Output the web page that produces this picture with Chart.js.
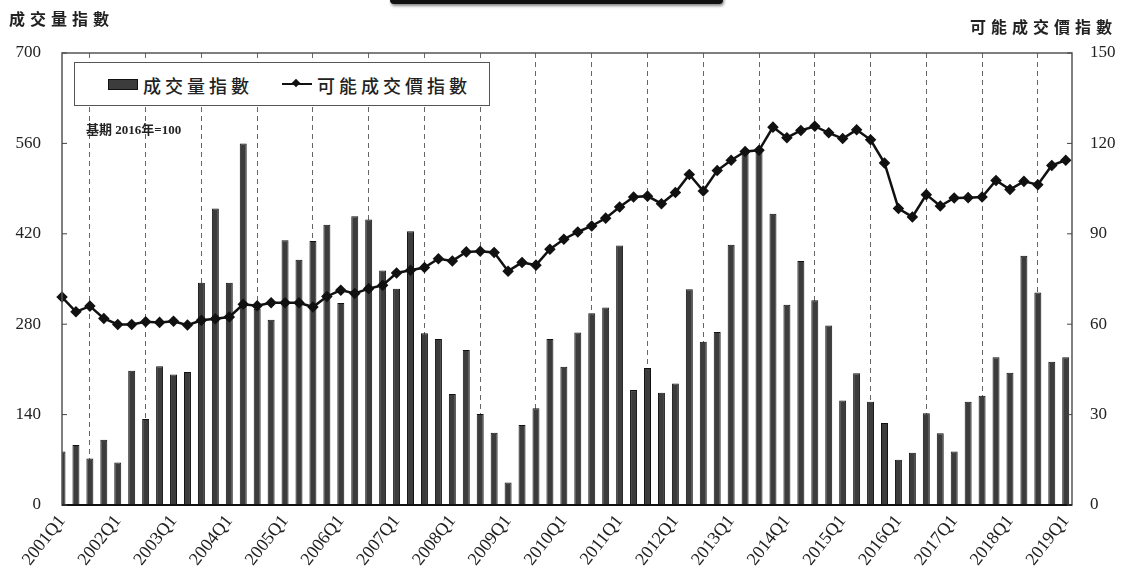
<!DOCTYPE html>
<html>
<head>
<meta charset="utf-8">
<script src="https://cdn.jsdelivr.net/npm/chart.js@4/dist/chart.umd.min.js"></script>
<style>
  html, body { margin: 0; padding: 0; background: #fff; }
  #wrap { position: relative; width: 1125px; height: 579px; overflow: hidden; }
  canvas { position: absolute; left: 0; top: 0; }
  .cjk { font-family: "Noto Sans CJK TC", "Noto Sans CJK SC", sans-serif; font-weight: 700; color: #222; position: absolute; white-space: nowrap; }
  #titleBar { position: absolute; left: 390px; top: -10px; width: 333px; height: 14px; background: #111; border-radius: 4px; box-shadow: 1px 2px 3px #888; }
  #legend { position: absolute; left: 74px; top: 62px; width: 414px; height: 42px; border: 1.5px solid #555; background: #fff; }
</style>
</head>
<body>
<div id="wrap">
  <canvas id="chart" width="1125" height="579"></canvas>
  <div id="titleBar"></div>
  <div class="cjk" style="left:9px; top:6px; font-size:16px; letter-spacing:5px;">成交量指數</div>
  <div class="cjk" style="left:970px; top:14px; font-size:16px; letter-spacing:5px;">可能成交價指數</div>
  <div id="legend">
    <div style="position:absolute; left:33px; top:16px; width:28px; height:9px; background:#3c3c3c; border:1.5px solid #111;"></div>
    <div class="cjk" style="left:68px; top:9px; font-size:18px; letter-spacing:4px; font-weight:500;">成交量指數</div>
    <div style="position:absolute; left:207px; top:20px; width:30px; height:2px; background:#111;"></div>
    <div style="position:absolute; left:218px; top:17px; width:6px; height:6px; background:#111; transform:rotate(45deg);"></div>
    <div class="cjk" style="left:242px; top:9px; font-size:18px; letter-spacing:4px; font-weight:500;">可能成交價指數</div>
  </div>
  <div class="cjk" style="left:86px; top:119px; font-size:13px; font-family:'Liberation Serif','Noto Sans CJK TC',serif;">基期 2016年=100</div>
</div>
<script>
// quarters 2001Q1 .. 2019Q1
const years = ['2001','2002','2003','2004','2005','2006','2007','2008','2009',
  '2010','2011','2012','2013','2014','2015','2016','2017','2018'];
const quarterLabels = [];
years.forEach(y => { ['Q1','Q2','Q3','Q4'].forEach(q => quarterLabels.push(y + q)); });
quarterLabels.push('2019Q1');

// 成交量指數 (left axis)
const volumeIndex = [
  83, 93, 72, 101,
  66, 208, 133, 215,
  202, 206, 344, 459,
  344, 560, 304, 287,
  410, 380, 409, 434,
  313, 447, 442, 363,
  335, 424, 266, 257,
  172, 240, 141, 112,
  35, 124, 150, 257,
  214, 267, 297, 306,
  402, 178, 212, 174,
  188, 334, 253, 268,
  403, 550, 553, 451,
  310, 378, 317, 278,
  162, 204, 160, 127,
  70, 81, 142, 111,
  83, 160, 169, 229,
  205, 386, 329, 222,
  229
];

// 可能成交價指數 (right axis)
const priceIndex = [
  69, 64.1, 66, 61.9,
  59.9, 59.9, 60.8, 60.6,
  61, 59.7, 61.3, 61.8,
  62.4, 66.6, 66.1, 67.1,
  67.1, 67.1, 65.7, 69.2,
  71.3, 70.2, 71.8, 72.9,
  77, 77.9, 78.8, 81.7,
  81, 84, 84.2, 83.8,
  77.6, 80.5, 79.6, 84.9,
  88.2, 90.6, 92.6, 95.2,
  98.9, 102.2, 102.5, 100,
  103.7, 109.7, 104.2, 111,
  114.4, 117.3, 117.7, 125.4,
  121.9, 124.3, 125.7, 123.5,
  121.6, 124.5, 121.2, 113.5,
  98.4, 95.6, 103, 99.2,
  101.9, 102, 102.2, 107.7,
  104.7, 107.4, 106.3, 112.7,
  114.4
];

const leftTicks = [0, 140, 280, 420, 560, 700];
const rightTicks = [0, 30, 60, 90, 120, 150];
// year ticks: every Q1
const yearTicks = quarterLabels.map((l, i) => i).filter(i => i % 4 === 0);

const numFont = { family: 'Liberation Serif', size: 17 };

// frame around plot + small inward ticks
const framePlugin = {
  id: 'frame',
  afterDraw(chart) {
    const { ctx, chartArea: a, scales } = chart;
    ctx.save();
    ctx.strokeStyle = '#555';
    ctx.lineWidth = 1.5;
    ctx.strokeRect(a.left, a.top, a.right - a.left, a.bottom - a.top);
    ctx.strokeStyle = '#111';
    ctx.lineWidth = 2;
    ctx.beginPath();
    ctx.moveTo(a.left, a.bottom);
    ctx.lineTo(a.right, a.bottom);
    ctx.stroke();
    ctx.strokeStyle = '#444';
    ctx.lineWidth = 1;
    leftTicks.forEach(v => {
      const y = scales.y.getPixelForValue(v);
      ctx.beginPath(); ctx.moveTo(a.left, y); ctx.lineTo(a.left + 5, y); ctx.stroke();
    });
    rightTicks.forEach(v => {
      const y = scales.y1.getPixelForValue(v);
      ctx.beginPath(); ctx.moveTo(a.right, y); ctx.lineTo(a.right - 5, y); ctx.stroke();
    });
    ctx.restore();
  }
};

new Chart(document.getElementById('chart').getContext('2d'), {
  type: 'bar',
  data: {
    datasets: [
      {
        type: 'line',
        label: '可能成交價指數',
        data: priceIndex.map((v, i) => ({ x: i, y: v })),
        yAxisID: 'y1',
        borderColor: '#111',
        borderWidth: 2.5,
        pointStyle: 'rectRot',
        pointRadius: 4,
        pointBackgroundColor: '#111',
        pointBorderColor: '#111',
        tension: 0,
        clip: false,
        order: 0
      },
      {
        type: 'bar',
        label: '成交量指數',
        data: volumeIndex.map((v, i) => ({ x: i, y: v })),
        yAxisID: 'y',
        backgroundColor: '#3c3c3c',
        borderColor: '#111',
        borderWidth: 1,
        categoryPercentage: 1,
        barPercentage: 0.5,
        order: 1
      }
    ]
  },
  options: {
    responsive: false,
    animation: false,
    layout: { padding: { top: 53, left: 0, right: 0, bottom: 0 } },
    plugins: { legend: { display: false }, tooltip: { enabled: false } },
    scales: {
      x: {
        type: 'linear',
        offset: false,
        min: 0,
        max: 72.45,
        afterBuildTicks: s => { s.ticks = yearTicks.map(v => ({ value: v })); },
        grid: {
          drawTicks: false,
          color: c => (c.tick && c.tick.value > 0) ? '#666' : 'rgba(0,0,0,0)',
          lineWidth: 1
        },
        border: { display: false, dash: [5, 4] },
        ticks: {
          autoSkip: false,
          maxRotation: 52,
          minRotation: 52,
          padding: 6,
          color: '#222',
          font: { family: 'Liberation Serif', size: 18 },
          callback: v => quarterLabels[v]
        },
        afterFit: s => { s.height = 74; }
      },
      y: {
        position: 'left',
        min: 0,
        max: 700,
        afterBuildTicks: s => { s.ticks = leftTicks.map(v => ({ value: v })); },
        grid: { display: false, drawTicks: false },
        border: { display: false },
        ticks: { padding: 21, color: '#222', font: numFont },
        afterFit: s => { s.width = 62; }
      },
      y1: {
        position: 'right',
        min: 0,
        max: 150,
        afterBuildTicks: s => { s.ticks = rightTicks.map(v => ({ value: v })); },
        grid: { display: false, drawTicks: false },
        border: { display: false },
        ticks: { padding: 18, color: '#222', font: numFont },
        afterFit: s => { s.width = 53; }
      }
    }
  },
  plugins: [framePlugin]
});
</script>
</body>
</html>
